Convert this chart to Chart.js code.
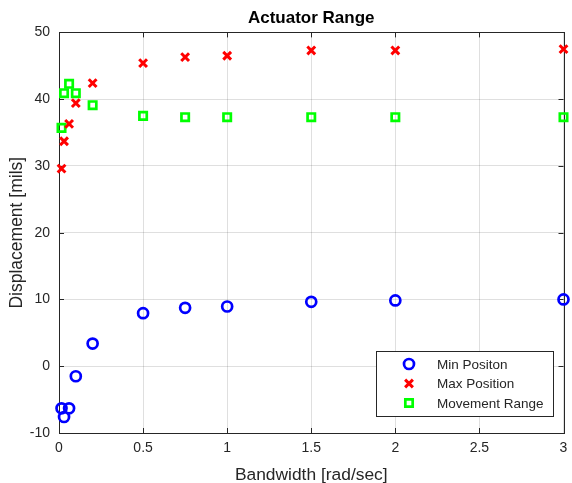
<!DOCTYPE html>
<html>
<head>
<meta charset="utf-8">
<script src="https://cdn.jsdelivr.net/npm/chart.js@4/dist/chart.umd.min.js"></script>
<style>
  html, body { margin: 0; padding: 0; background: #fff; }
  #wrap { width: 572px; height: 483px; }
</style>
</head>
<body>
<div id="wrap"><canvas id="chart" width="572" height="483"></canvas></div>
<script>
// data
const bandwidth = [0.015, 0.03, 0.06, 0.1, 0.2, 0.5, 0.75, 1, 1.5, 2, 3];
const minPosition = [-6.3, -7.6, -6.3, -1.5, 3.4, 7.95, 8.75, 8.95, 9.65, 9.85, 10.0];
const maxPosition = [29.6, 33.7, 36.3, 39.4, 42.4, 45.4, 46.3, 46.5, 47.3, 47.3, 47.5];
const movementRange = [35.7, 40.9, 42.3, 40.9, 39.1, 37.5, 37.3, 37.3, 37.3, 37.3, 37.3];

const xTicks = [0, 0.5, 1, 1.5, 2, 2.5, 3];
const xTickLabels = ['0', '0.5', '1', '1.5', '2', '2.5', '3'];
const yTicks = [-10, 0, 10, 20, 30, 40, 50];

const seriesNames = ['Min Positon', 'Max Position', 'Movement Range'];

const axisColor = '#262626';
const gridColor = 'rgba(38,38,38,0.15)';
const fontFamily = '"Liberation Sans", Arial, Helvetica, sans-serif';

const toPoints = (ys) => bandwidth.map((x, i) => ({ x: x, y: ys[i] }));

// MATLAB style box with ticks pointing inward on all four sides
const boxPlugin = {
    id: 'matlabBox',
    beforeDatasetsDraw(chart) {
        const { ctx, chartArea: a, scales } = chart;
        ctx.save();
        ctx.strokeStyle = axisColor;
        ctx.lineWidth = 1;
        ctx.beginPath();
        const tl = 5;
        xTicks.forEach(v => {
            const px = Math.round(scales.x.getPixelForValue(v)) + 0.5;
            ctx.moveTo(px, a.bottom); ctx.lineTo(px, a.bottom - tl);
            ctx.moveTo(px, a.top); ctx.lineTo(px, a.top + tl);
        });
        yTicks.forEach(v => {
            const py = Math.round(scales.y.getPixelForValue(v)) + 0.5;
            ctx.moveTo(a.left, py); ctx.lineTo(a.left + tl, py);
            ctx.moveTo(a.right, py); ctx.lineTo(a.right - tl, py);
        });
        ctx.stroke();
        ctx.strokeRect(Math.round(a.left) + 0.5, Math.round(a.top) + 0.5,
            Math.round(a.right - a.left), Math.round(a.bottom - a.top));
        ctx.restore();
    }
};

// legend box inside the axes, lower right
const legendPlugin = {
    id: 'boxLegend',
    afterDraw(chart) {
        const { ctx } = chart;
        const bx = 376, by = 351, bw = 177, bh = 65;
        ctx.save();
        ctx.fillStyle = '#fff';
        ctx.fillRect(bx, by, bw, bh);
        ctx.strokeStyle = axisColor;
        ctx.lineWidth = 1;
        ctx.strokeRect(bx + 0.5, by + 0.5, bw, bh);
        ctx.font = '13.5px ' + fontFamily;
        ctx.textBaseline = 'middle';
        chart.data.datasets.forEach((ds, i) => {
            const y = by + 13 + i * 19.5;
            ctx.strokeStyle = ds.borderColor;
            ctx.fillStyle = 'rgba(0,0,0,0)';
            ctx.lineWidth = ds.pointBorderWidth;
            Chart.helpers.drawPoint(ctx, {
                pointStyle: ds.pointStyle,
                radius: ds.pointRadius,
                borderWidth: ds.pointBorderWidth
            }, 409, y);
            ctx.fillStyle = axisColor;
            ctx.fillText(ds.label, 437, y + 1);
        });
        ctx.restore();
    }
};

new Chart(document.getElementById('chart'), {
    type: 'scatter',
    data: {
        datasets: [
            {
                label: seriesNames[0],
                data: toPoints(minPosition),
                pointStyle: 'circle',
                pointRadius: 5,
                pointBorderWidth: 2.7,
                borderColor: '#0000ff',
                backgroundColor: 'rgba(0,0,0,0)',
                clip: false
            },
            {
                label: seriesNames[1],
                data: toPoints(maxPosition),
                pointStyle: 'crossRot',
                pointRadius: 5.5,
                pointBorderWidth: 3,
                borderColor: '#ff0000',
                backgroundColor: 'rgba(0,0,0,0)',
                clip: false
            },
            {
                label: seriesNames[2],
                data: toPoints(movementRange),
                pointStyle: 'rect',
                pointRadius: 5.2,
                pointBorderWidth: 2.7,
                borderColor: '#00ff00',
                backgroundColor: 'rgba(0,0,0,0)',
                clip: false
            }
        ]
    },
    options: {
        responsive: false,
        animation: false,
        layout: { padding: { left: 0, right: -3, top: 0, bottom: 0 } },
        plugins: {
            legend: { display: false },
            tooltip: { enabled: false },
            title: {
                display: true,
                fullSize: false,
                text: 'Actuator Range',
                color: '#000',
                font: { family: fontFamily, size: 17, weight: 'bold' },
                padding: { top: 8, bottom: 4 }
            }
        },
        scales: {
            x: {
                type: 'linear',
                min: 0,
                max: 3,
                afterBuildTicks: (scale) => { scale.ticks = xTicks.map(v => ({ value: v })); },
                afterFit: (scale) => {
                    scale.height = 50;
                    scale.paddingLeft = 0;
                    scale.paddingRight = 0;
                },
                grid: { color: gridColor, drawTicks: false },
                border: { display: false },
                ticks: {
                    color: axisColor,
                    padding: 0,
                    font: { family: fontFamily, size: 14, lineHeight: 2.1 },
                    callback: (value, index) => xTickLabels[index]
                },
                title: {
                    display: true,
                    text: 'Bandwidth [rad/sec]',
                    color: axisColor,
                    font: { family: fontFamily, size: 17.4 },
                    padding: { top: 0, bottom: -3 }
                }
            },
            y: {
                type: 'linear',
                min: -10,
                max: 50,
                afterBuildTicks: (scale) => { scale.ticks = yTicks.map(v => ({ value: v })); },
                afterFit: (scale) => { scale.width = 59; },
                grid: { color: gridColor, drawTicks: false },
                border: { display: false },
                ticks: {
                    color: axisColor,
                    padding: 9,
                    font: { family: fontFamily, size: 14 }
                },
                title: {
                    display: true,
                    text: 'Displacement [mils]',
                    color: axisColor,
                    font: { family: fontFamily, size: 17.5 },
                    padding: { top: 7, bottom: 0 }
                }
            }
        }
    },
    plugins: [boxPlugin, legendPlugin]
});
</script>
</body>
</html>
